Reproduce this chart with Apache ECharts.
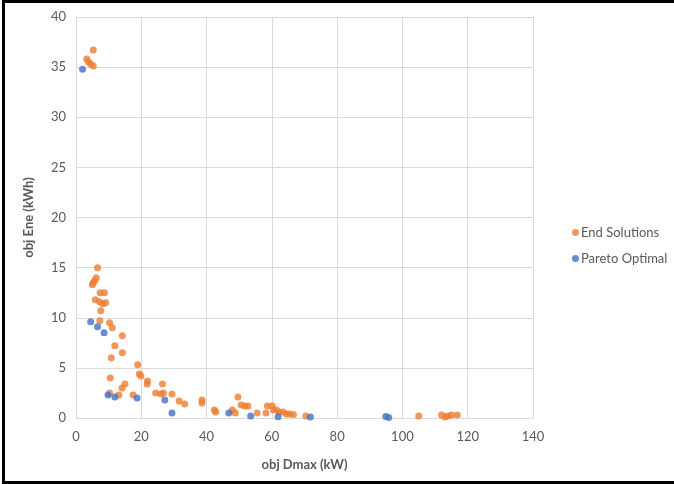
<!DOCTYPE html>
<html>
<head>
<meta charset="utf-8">
<script src="https://cdn.jsdelivr.net/npm/echarts@6/dist/echarts.min.js"></script>
<style>
  html, body { margin: 0; padding: 0; background: #fff; }
  #frame {
    position: absolute; left: 2px; top: 0; width: 672px; height: 484px;
    box-sizing: border-box;
    border-top: 3px solid #000; border-left: 3px solid #000; border-bottom: 3px solid #000;
  }
  #scatter-map { position: absolute; left: 0; top: 0; width: 674px; height: 484px; }
</style>
</head>
<body>
<div id="frame"></div>
<div id="scatter-map"></div>
<script>
var seriesNames = ['End Solutions', 'Pareto Optimal'];
var xTicks = [0, 20, 40, 60, 80, 100, 120, 140];
var yTicks = [0, 5, 10, 15, 20, 25, 30, 35, 40];

// [obj Dmax (kW), obj Ene (kWh)]
var endSolutions = [
    [3.3, 35.8], [3.8, 35.5], [4.5, 35.3], [5.3, 35.1], [5.3, 36.7],
    [6.6, 15.0], [6.2, 14.0], [5.7, 13.7], [5.3, 13.5], [5.0, 13.3],
    [5.9, 11.8], [7.4, 12.5], [8.7, 12.5], [7.2, 11.6], [8.2, 11.4],
    [9.1, 11.5], [7.6, 10.7], [7.3, 9.7], [10.3, 9.5], [11.1, 9.0],
    [14.2, 8.2], [11.9, 7.2], [14.2, 6.5], [10.8, 6.0], [18.9, 5.3],
    [19.4, 4.4], [19.9, 4.2], [10.5, 4.0], [21.9, 3.7], [21.8, 3.4],
    [15.0, 3.4], [14.1, 3.0], [26.5, 3.4], [10.3, 2.5], [13.1, 2.3],
    [17.5, 2.3], [24.4, 2.5], [26.0, 2.4], [26.8, 2.5], [29.4, 2.4],
    [31.6, 1.7], [33.3, 1.4], [38.6, 1.8], [38.6, 1.5], [42.4, 0.8],
    [42.8, 0.6], [47.9, 0.8], [48.8, 0.5], [49.6, 2.1], [50.6, 1.3],
    [51.7, 1.2], [52.7, 1.2], [55.5, 0.5], [58.2, 0.5], [58.6, 1.2],
    [60.1, 1.2], [60.5, 0.8], [61.4, 0.8], [62.3, 0.6], [63.4, 0.6],
    [64.4, 0.4], [65.4, 0.4], [66.6, 0.35], [70.4, 0.2], [105.0, 0.2],
    [112.0, 0.3], [113.0, 0.1], [113.9, 0.2], [115.0, 0.3], [116.8, 0.3]
];
var paretoOptimal = [
    [2.0, 34.8], [4.5, 9.6], [6.6, 9.1], [8.6, 8.5], [9.8, 2.3],
    [11.9, 2.1], [18.7, 2.0], [27.2, 1.8], [29.4, 0.5], [46.8, 0.5],
    [53.5, 0.2], [61.9, 0.13], [71.8, 0.1], [94.9, 0.15], [95.8, 0.05]
];

var font = 'Lato, "Open Sans", sans-serif';
var grey = '#595959';
var gridColor = '#D9D9D9';

option = {
    animation: false,
    textStyle: { fontFamily: font },
    legend: {
        orient: 'vertical',
        left: 567,
        top: 221,
        itemWidth: 7,
        itemHeight: 7,
        itemGap: 13,
        icon: 'circle',
        textStyle: { color: grey, fontSize: 13, fontFamily: font, padding: [0, 0, 0, -3] },
        data: seriesNames
    },
    grid: {
        left: 76,
        right: 141,
        top: 17,
        bottom: 66
    },
    xAxis: {
        type: 'value',
        min: xTicks[0],
        max: xTicks[xTicks.length - 1],
        interval: 20,
        name: 'obj Dmax (kW)',
        nameLocation: 'middle',
        nameGap: 40,
        nameTextStyle: { color: grey, fontSize: 13, fontWeight: 'bold', fontFamily: font },
        axisLine: { show: true, lineStyle: { color: gridColor } },
        axisTick: { show: false },
        axisLabel: { color: grey, fontSize: 13, margin: 12, fontFamily: font },
        splitLine: { show: true, lineStyle: { color: gridColor } }
    },
    yAxis: {
        type: 'value',
        min: yTicks[0],
        max: yTicks[yTicks.length - 1],
        interval: 5,
        name: 'obj Ene (kWh)',
        nameLocation: 'middle',
        nameGap: 41,
        nameTextStyle: { color: grey, fontSize: 13, fontWeight: 'bold', fontFamily: font },
        axisLine: { show: true, lineStyle: { color: gridColor } },
        axisTick: { show: false },
        axisLabel: { color: grey, fontSize: 13, margin: 10, fontFamily: font },
        splitLine: { show: true, lineStyle: { color: gridColor } }
    },
    series: [
        {
            name: seriesNames[0],
            type: 'scatter',
            symbolSize: 7,
            itemStyle: { color: '#ED7D31' },
            data: endSolutions
        },
        {
            name: seriesNames[1],
            type: 'scatter',
            symbolSize: 7,
            itemStyle: { color: '#4472C4' },
            data: paretoOptimal
        }
    ]
};
var chartDom = document.getElementById('scatter-map');
var scatterMap = echarts.init(chartDom);
scatterMap.setOption(option);
</script>
</body>
</html>
